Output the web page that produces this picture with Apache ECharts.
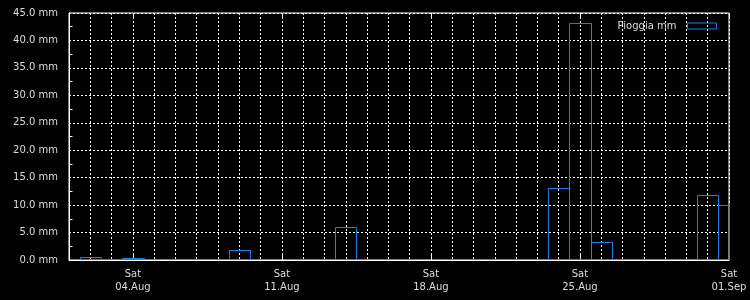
<!DOCTYPE html>
<html>
<head>
<meta charset="utf-8">
<script src="https://cdn.jsdelivr.net/npm/echarts@6/dist/echarts.min.js"></script>
<style>
html,body{margin:0;padding:0;background:#000;}
#chart{width:750px;height:300px;}
</style>
</head>
<body>
<div id="chart"></div>
<script>
// Day categories (midnight of each day) spanning the plot
const days = [
  '2018-08-01','2018-08-02','2018-08-03','2018-08-04','2018-08-05','2018-08-06','2018-08-07','2018-08-08',
  '2018-08-09','2018-08-10','2018-08-11','2018-08-12','2018-08-13','2018-08-14','2018-08-15','2018-08-16',
  '2018-08-17','2018-08-18','2018-08-19','2018-08-20','2018-08-21','2018-08-22','2018-08-23','2018-08-24',
  '2018-08-25','2018-08-26','2018-08-27','2018-08-28','2018-08-29','2018-08-30','2018-08-31','2018-09-01'
];
// Rainy days and their totals (mm)
const rainDays = ['2018-08-02','2018-08-03','2018-08-04','2018-08-09','2018-08-14','2018-08-24','2018-08-25','2018-08-26','2018-08-31','2018-09-01'];
const rainMm   = [0.5, 0.1, 0.3, 1.8, 6.1, 13.1, 43.1, 3.2, 11.8, 10.1];
// Labelled (Saturday) ticks
const saturdays = ['2018-08-04','2018-08-11','2018-08-18','2018-08-25','2018-09-01'];
const satLabels = ['Sat\n04.Aug','Sat\n11.Aug','Sat\n18.Aug','Sat\n25.Aug','Sat\n01.Sep'];
const seriesName = 'Pioggia mm';

const seriesData = rainDays.map((d, i) => [d, rainMm[i]]);
const isSat = (idx, val) => saturdays.indexOf(val) >= 0;
const FONT = 'DejaVu Sans';
const BLUE = '#1a80f0';

function renderBar(params, api) {
  const xi = api.value(0);
  const v = api.value(1);
  const top = api.coord([xi, v]);
  const base = api.coord([xi, 0]);
  const w = api.size([1, v])[0];
  const cs = params.coordSys;
  const rect = echarts.graphic.clipRectByRect(
    {x: top[0] - w / 2, y: top[1], width: w, height: base[1] - top[1]},
    {x: cs.x, y: cs.y, width: cs.width, height: cs.height}
  );
  if (!rect) return;
  const x0 = Math.round(rect.x) + 0.5, x1 = Math.round(rect.x + rect.width) + 0.5;
  const y0 = Math.round(rect.y) + 0.5, y1 = Math.round(rect.y + rect.height) - 0.5;
  return {type: 'rect', shape: {x: x0, y: y0, width: x1 - x0, height: y1 - y0},
    style: {fill: 'transparent', stroke: BLUE, lineWidth: 1}};
}

const chart = echarts.init(document.getElementById('chart'), null, {renderer: 'canvas'});
chart.setOption({
  backgroundColor: '#000',
  animation: false,
  grid: {left: 69, right: 21, top: 13, bottom: 40, show: true, borderColor: '#fff', borderWidth: 1, backgroundColor: 'transparent'},
  legend: {
    data: [seriesName],
    right: 28, top: 16,
    align: 'right',
    icon: 'rect',
    itemWidth: 29, itemHeight: 6,
    itemStyle: {color: 'transparent', borderColor: BLUE, borderWidth: 1},
    textStyle: {color: '#ddd', fontSize: 10, fontFamily: FONT, padding: [0, 6, 0, 0]}
  },
  xAxis: [{
    type: 'category',
    data: days,
    boundaryGap: false,
    axisLine: {show: true, lineStyle: {color: '#fff', width: 1}},
    axisTick: {show: true, inside: true, length: 6, interval: isSat, lineStyle: {color: '#fff'}},
    axisLabel: {
      interval: isSat,
      color: '#ddd', fontSize: 10, fontFamily: FONT, lineHeight: 13, margin: 8,
      formatter: v => { const i = saturdays.indexOf(v); return i >= 0 ? satLabels[i] : ''; }
    },
    splitLine: {show: true, interval: 0, lineStyle: {color: '#fff', type: [2, 2], width: 1}}
  }, {
    type: 'category',
    data: days,
    position: 'top',
    boundaryGap: false,
    axisLine: {show: false},
    axisTick: {show: true, inside: true, length: 6, interval: isSat, lineStyle: {color: '#fff'}},
    axisLabel: {show: false},
    splitLine: {show: false}
  }],
  yAxis: {
    type: 'value',
    min: 0, max: 45, interval: 5,
    axisLine: {show: true, lineStyle: {color: '#fff', width: 1}},
    axisTick: {show: false, inside: true},
    minorTick: {show: true, splitNumber: 2, length: 3.5, lineStyle: {color: '#fff'}},
    axisLabel: {color: '#ddd', fontSize: 10, fontFamily: FONT, margin: 11,
      formatter: v => v.toFixed(1) + ' mm'},
    splitLine: {show: true, lineStyle: {color: '#fff', type: [2, 2], width: 1}}
  },
  series: [{
    name: seriesName,
    type: 'custom',
    xAxisIndex: 0,
    data: seriesData,
    encode: {x: 0, y: 1},
    renderItem: renderBar,
    itemStyle: {color: 'transparent', borderColor: BLUE, borderWidth: 1}
  }]
});
</script>
</body>
</html>
